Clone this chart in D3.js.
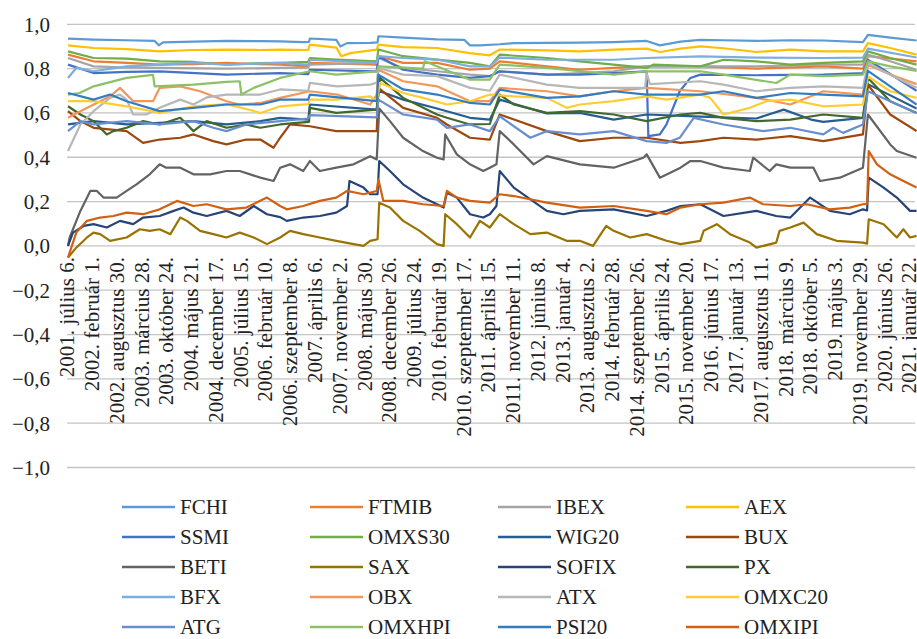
<!DOCTYPE html>
<html>
<head>
<meta charset="utf-8">
<script src="https://cdn.jsdelivr.net/npm/d3@7"></script>
<style>
  body { margin: 0; background: #fff; }
</style>
</head>
<body>
<svg id="chart"></svg>
<script>
// x values: weeks counted from 2001. július 6. (weekly correlations)
const tickLabels = ["2001. július 6.", "2002. február 1.", "2002. augusztus 30.", "2003. március 28.",
  "2003. október 24.", "2004. május 21.", "2004. december 17.", "2005. július 15.", "2006. február 10.",
  "2006. szeptember 8.", "2007. április 6.", "2007. november 2.", "2008. május 30.", "2008. december 26.",
  "2009. július 24.", "2010. február 19.", "2010. szeptember 17.", "2011. április 15.", "2011. november 11.",
  "2012. június 8.", "2013. január 4.", "2013. augusztus 2.", "2014. február 28.", "2014. szeptember 26.",
  "2015. április 24.", "2015. november 20.", "2016. június 17.", "2017. január 13.", "2017. augusztus 11.",
  "2018. március 9.", "2018. október 5.", "2019. május 3.", "2019. november 29.", "2020. június 26.",
  "2021. január 22."]
const tickStep = 30
const yTicks = [-1, -0.8, -0.6, -0.4, -0.2, 0, 0.2, 0.4, 0.6, 0.8, 1]

const FCHI = [[0,.935],[31,.931],[71,.928],[105,.925],[110,.905],[115,.918],[152,.922],[192,.925],[233,.924],[257,.923],[285,.92],[292,.921],[293,.936],[325,.93],[330,.9],[338,.915],[366,.916],[375,.918],[376,.946],[406,.94],[447,.932],[480,.93],[487,.905],[499,.905],[523,.91],[540,.915],[580,.916],[620,.917],[661,.92],[701,.925],[717,.905],[742,.922],[766,.93],[794,.928],[834,.925],[875,.928],[915,.927],[963,.92],[969,.952],[996,.94],[1028,.927]]
const FTMIB = [[0,.863],[31,.833],[71,.826],[111,.818],[152,.82],[192,.826],[233,.82],[257,.818],[291,.81],[293,.826],[374,.818],[376,.856],[406,.826],[447,.826],[487,.795],[511,.8],[523,.833],[580,.81],[620,.795],[661,.803],[701,.81],[766,.81],[834,.8],[915,.81],[963,.8],[969,.856],[1028,.833]]
const IBEX = [[0,.848],[31,.81],[71,.805],[111,.803],[192,.8],[257,.803],[291,.805],[293,.818],[374,.826],[376,.848],[406,.803],[447,.788],[487,.773],[511,.766],[523,.788],[580,.773],[620,.78],[661,.788],[701,.81],[766,.81],[834,.81],[915,.818],[963,.818],[969,.863],[996,.833],[1028,.795]]
const AEX = [[0,.905],[31,.893],[71,.888],[111,.878],[152,.884],[192,.886],[233,.884],[257,.886],[291,.884],[293,.908],[325,.895],[331,.856],[342,.87],[374,.886],[376,.908],[406,.897],[447,.893],[487,.87],[511,.86],[523,.886],[580,.882],[620,.878],[661,.886],[701,.89],[717,.875],[742,.89],[766,.9],[794,.892],[834,.875],[875,.886],[915,.878],[963,.878],[969,.915],[996,.893],[1028,.863]]
const SSMI = [[0,.818],[31,.78],[71,.785],[111,.788],[192,.773],[257,.78],[291,.775],[293,.795],[374,.788],[376,.856],[406,.795],[447,.773],[487,.758],[511,.766],[523,.788],[580,.773],[620,.773],[661,.78],[701,.788],[703,.495],[717,.503],[725,.548],[741,.698],[754,.758],[766,.773],[834,.77],[915,.773],[963,.78],[969,.84],[1028,.7]]
const OMXS30 = [[0,.878],[31,.848],[71,.845],[111,.833],[152,.83],[192,.818],[233,.825],[257,.826],[291,.83],[293,.848],[325,.841],[374,.833],[376,.886],[406,.856],[447,.841],[487,.826],[511,.81],[523,.863],[580,.848],[620,.833],[661,.818],[701,.803],[709,.818],[766,.81],[794,.84],[834,.833],[875,.818],[915,.826],[963,.833],[969,.878],[996,.848],[1028,.818]]
const WIG20 = [[0,.548],[31,.563],[71,.548],[111,.555],[152,.563],[192,.548],[233,.563],[257,.578],[291,.57],[293,.638],[374,.615],[376,.70],[406,.66],[447,.62],[487,.578],[511,.57],[523,.66],[580,.598],[620,.6],[661,.57],[701,.593],[766,.583],[834,.575],[867,.615],[900,.57],[915,.56],[963,.578],[969,.73],[1028,.62]]
const BUX = [[0,.608],[15,.563],[31,.533],[71,.518],[91,.465],[111,.48],[136,.488],[152,.503],[176,.473],[192,.458],[216,.48],[233,.48],[249,.443],[257,.488],[269,.548],[293,.54],[325,.518],[374,.518],[376,.713],[406,.623],[447,.578],[459,.548],[487,.488],[511,.48],[523,.593],[580,.518],[620,.473],[661,.488],[701,.488],[742,.465],[766,.473],[794,.488],[834,.48],[875,.495],[915,.473],[963,.503],[969,.728],[996,.593],[1028,.518]]
const BETI = [[0,0],[2,.038],[15,.158],[27,.248],[35,.248],[43,.218],[59,.218],[71,.248],[83,.278],[99,.323],[111,.368],[119,.353],[136,.353],[152,.323],[172,.323],[192,.338],[208,.338],[233,.308],[249,.293],[257,.353],[269,.368],[285,.338],[293,.383],[305,.338],[325,.353],[346,.368],[366,.405],[374,.39],[377,.62],[390,.563],[406,.488],[430,.428],[447,.398],[455,.39],[457,.503],[471,.413],[487,.368],[503,.338],[511,.353],[519,.368],[523,.518],[540,.458],[564,.368],[580,.405],[620,.368],[661,.353],[697,.398],[701,.413],[717,.308],[742,.353],[754,.383],[766,.383],[794,.353],[826,.338],[830,.398],[850,.338],[858,.368],[875,.353],[903,.353],[911,.293],[935,.308],[963,.353],[969,.593],[996,.458],[1004,.428],[1028,.398]]
const SAX = [[0,-.053],[10,-.008],[23,.038],[31,.06],[39,.053],[51,.023],[71,.038],[87,.075],[99,.068],[111,.075],[124,.053],[136,.128],[144,.113],[160,.068],[176,.053],[192,.038],[208,.06],[225,.038],[241,.008],[257,.038],[269,.068],[285,.053],[305,.038],[325,.023],[346,.008],[358,0],[366,.023],[375,.03],[377,.195],[390,.173],[406,.113],[426,.068],[447,.008],[455,0],[457,.143],[471,.098],[487,.038],[499,.113],[511,.083],[523,.143],[540,.098],[560,.053],[580,.06],[604,.023],[620,.023],[636,0],[652,.09],[661,.068],[681,.038],[701,.053],[725,.023],[742,.008],[766,.023],[770,.068],[786,.098],[802,.053],[826,.015],[834,-.008],[858,.015],[862,.068],[875,.083],[891,.105],[907,.053],[931,.023],[963,.015],[968,.01],[970,.12],[988,.098],[1004,.038],[1012,.075],[1020,.038],[1028,.045]]
const SOFIX = [[0,0],[6,.06],[19,.09],[31,.098],[47,.083],[63,.113],[79,.098],[91,.128],[111,.135],[128,.158],[140,.173],[152,.15],[168,.135],[192,.158],[208,.135],[225,.18],[241,.143],[257,.13],[265,.113],[285,.128],[305,.135],[325,.15],[338,.18],[341,.293],[358,.263],[366,.233],[375,.233],[377,.383],[390,.338],[406,.278],[430,.218],[447,.188],[455,.173],[459,.24],[471,.218],[487,.143],[503,.128],[511,.143],[519,.18],[523,.338],[540,.263],[580,.158],[600,.143],[620,.158],[661,.165],[681,.15],[701,.135],[725,.158],[742,.18],[766,.188],[794,.135],[834,.158],[858,.135],[875,.128],[899,.218],[923,.158],[947,.143],[963,.165],[968,.16],[970,.308],[988,.263],[1004,.218],[1020,.158],[1028,.158]]
const PX = [[0,.63],[15,.593],[31,.563],[47,.503],[55,.518],[71,.533],[91,.563],[111,.548],[136,.578],[152,.518],[168,.563],[192,.533],[216,.548],[233,.533],[257,.548],[277,.555],[292,.56],[293,.623],[325,.6],[374,.615],[378,.758],[406,.668],[447,.593],[459,.578],[487,.548],[511,.55],[523,.683],[540,.638],[580,.6],[620,.608],[661,.593],[701,.563],[742,.593],[766,.6],[794,.578],[834,.563],[875,.57],[915,.593],[963,.578],[969,.758],[996,.653],[1028,.6]]
const BFX = [[0,.758],[10,.803],[31,.788],[71,.81],[111,.818],[152,.826],[192,.818],[257,.826],[291,.818],[293,.84],[374,.826],[376,.856],[406,.848],[447,.841],[487,.81],[511,.81],[523,.85],[580,.84],[661,.84],[701,.848],[766,.855],[834,.85],[915,.848],[963,.85],[969,.89],[1028,.85]]
const OBX = [[0,.578],[15,.608],[51,.675],[63,.713],[79,.653],[103,.653],[111,.713],[136,.72],[160,.698],[192,.653],[208,.638],[233,.645],[257,.668],[293,.698],[326,.683],[366,.638],[374,.683],[376,.795],[406,.743],[447,.72],[487,.653],[511,.653],[523,.713],[580,.698],[620,.675],[661,.698],[701,.713],[766,.698],[834,.668],[875,.638],[915,.698],[963,.683],[969,.818],[996,.773],[1028,.73]]
const ATX = [[0,.428],[15,.548],[31,.608],[51,.668],[63,.683],[71,.66],[79,.593],[95,.593],[111,.623],[136,.66],[152,.638],[168,.67],[192,.683],[233,.683],[257,.706],[291,.70],[293,.736],[326,.72],[366,.728],[374,.736],[376,.803],[406,.773],[447,.766],[487,.713],[511,.70],[523,.773],[580,.728],[620,.713],[661,.713],[699,.713],[701,.78],[705,.73],[766,.743],[794,.728],[834,.698],[875,.713],[915,.72],[963,.713],[969,.825],[996,.773],[1028,.713]]
const OMXC20 = [[0,.653],[31,.653],[71,.63],[111,.6],[152,.63],[192,.64],[216,.618],[233,.6],[257,.63],[291,.64],[293,.66],[325,.66],[366,.675],[374,.653],[378,.736],[406,.69],[430,.668],[459,.638],[487,.653],[511,.683],[540,.675],[580,.668],[604,.623],[620,.638],[661,.653],[701,.675],[725,.66],[766,.683],[778,.668],[794,.593],[826,.623],[846,.653],[875,.66],[915,.63],[963,.638],[969,.765],[996,.698],[1028,.668]]
const ATG = [[0,.518],[15,.563],[31,.548],[71,.563],[111,.548],[152,.563],[176,.533],[192,.518],[216,.548],[257,.563],[291,.575],[293,.59],[374,.58],[376,.66],[406,.593],[447,.57],[459,.533],[487,.548],[511,.518],[523,.585],[560,.488],[580,.518],[620,.503],[661,.518],[701,.473],[725,.465],[741,.488],[758,.578],[794,.548],[842,.518],[875,.533],[915,.503],[927,.533],[939,.51],[963,.548],[969,.698],[996,.653],[1028,.6]]
const OMXHPI = [[0,.683],[14,.69],[31,.72],[71,.758],[103,.772],[105,.72],[152,.728],[192,.74],[208,.743],[210,.683],[225,.713],[257,.758],[293,.788],[325,.773],[374,.788],[376,.81],[430,.8],[432,.833],[487,.75],[511,.75],[523,.818],[580,.803],[620,.788],[661,.773],[701,.788],[766,.788],[794,.773],[858,.735],[875,.773],[915,.766],[963,.773],[969,.833],[996,.81],[1028,.79]]
const PSI20 = [[0,.69],[31,.66],[51,.683],[71,.653],[111,.608],[152,.623],[192,.638],[233,.638],[257,.66],[291,.66],[293,.683],[374,.653],[376,.773],[406,.706],[447,.683],[487,.645],[511,.638],[523,.705],[580,.668],[620,.675],[661,.698],[701,.683],[766,.683],[794,.698],[834,.668],[875,.69],[915,.683],[963,.675],[969,.79],[996,.72],[1028,.638]]
const OMXIPI = [[0,-.053],[10,.06],[23,.113],[39,.128],[55,.135],[71,.15],[91,.143],[111,.165],[132,.203],[152,.18],[168,.188],[192,.165],[216,.173],[241,.218],[257,.18],[265,.165],[285,.18],[305,.203],[325,.218],[338,.248],[358,.233],[374,.248],[376,.30],[382,.203],[406,.203],[430,.188],[455,.18],[459,.248],[471,.218],[487,.203],[511,.195],[523,.233],[540,.225],[580,.195],[620,.173],[661,.18],[701,.158],[725,.143],[742,.173],[766,.188],[794,.195],[826,.218],[842,.188],[875,.18],[895,.188],[923,.165],[947,.173],[963,.188],[968,.19],[970,.428],[980,.368],[996,.323],[1012,.293],[1028,.263]]

const seriesNames = ["FCHI", "FTMIB", "IBEX", "AEX", "SSMI", "OMXS30", "WIG20", "BUX", "BETI", "SAX",
  "SOFIX", "PX", "BFX", "OBX", "ATX", "OMXC20", "ATG", "OMXHPI", "PSI20", "OMXIPI"]
const seriesValues = [FCHI, FTMIB, IBEX, AEX, SSMI, OMXS30, WIG20, BUX, BETI, SAX,
  SOFIX, PX, BFX, OBX, ATX, OMXC20, ATG, OMXHPI, PSI20, OMXIPI]
const colors = ["#5b9bd5", "#ed7d31", "#a5a5a5", "#ffc000", "#4472c4", "#70ad47", "#255e91", "#9e480e",
  "#636363", "#997300", "#264478", "#43682b", "#7cafdd", "#f1975a", "#b7b7b7", "#ffcd33", "#698ed0",
  "#8cc168", "#327dc2", "#d26012"]

const width = 917,
      height = 639,
      left = 67,
      right = 915,
      font = "'Liberation Serif', 'Times New Roman', Times, serif"

const svg = d3.select("#chart")
    .attr("width", width)
    .attr("height", height)
    .attr("font-family", font)
    .style("font-family", font)

const x = d3.scaleLinear()
    .domain([0, 1028])
    .range([68, 68 + 1028 * 0.8255])

const y = d3.scaleLinear()
    .domain([-1, 1])
    .range([467.5, 24.3])

const hu = d3.formatLocale({ decimal: ",", thousands: " ", grouping: [3], currency: ["", ""], minus: "\u2212" })
const fmt = hu.format(".1f")

// grid
svg.append("g")
  .selectAll("line")
  .data(yTicks)
  .enter()
  .append("line")
    .attr("x1", left)
    .attr("x2", right)
    .attr("y1", d => y(d))
    .attr("y2", d => y(d))
    .style("stroke", "#c4c4c4")
    .style("stroke-width", 1.3)

svg.append("g")
  .selectAll("text")
  .data(yTicks)
  .enter()
  .append("text")
    .attr("x", 50)
    .attr("y", d => y(d))
    .attr("dy", "0.35em")
    .attr("text-anchor", "end")
    .style("font-size", "21px")
    .style("fill", "#222")
    .text(d => fmt(d))

// lines
const line = d3.line()
    .x(d => x(d[0]))
    .y(d => y(d[1]))

svg.append("g")
  .selectAll("path")
  .data(seriesValues)
  .enter()
  .append("path")
    .attr("d", d => line(d))
    .style("fill", "none")
    .style("stroke", (d, i) => colors[i])
    .style("stroke-width", 2.2)
    .style("stroke-linejoin", "round")

// x tick labels, rotated, hanging from the zero line
svg.append("g")
  .selectAll("text")
  .data(tickLabels)
  .enter()
  .append("text")
    .attr("transform", (d, i) => `translate(${x(i * tickStep) - 1},257) rotate(-90)`)
    .attr("dy", "0.35em")
    .attr("text-anchor", "end")
    .style("font-size", "21px")
    .style("fill", "#222")
    .text(d => d)

// legend
const legend = svg.append("g")
  .selectAll("g")
  .data(seriesNames)
  .enter()
  .append("g")
    .attr("transform", (d, i) => `translate(${122 + (i % 4) * 188},${507 + Math.floor(i / 4) * 30})`)

legend.append("line")
    .attr("x1", 0)
    .attr("x2", 53)
    .style("stroke", (d, i) => colors[i])
    .style("stroke-width", 2.5)

legend.append("text")
    .attr("x", 58)
    .attr("dy", "0.35em")
    .style("font-size", "21px")
    .style("fill", "#222")
    .text(d => d)
</script>
</body>
</html>
